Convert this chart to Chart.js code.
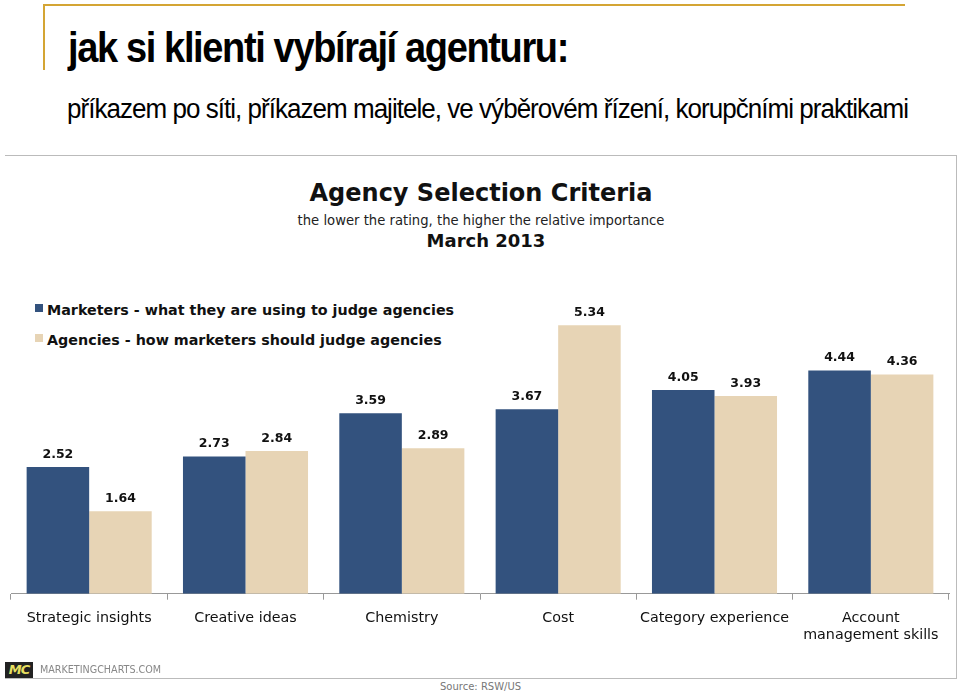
<!DOCTYPE html>
<html>
<head>
<meta charset="utf-8">
<script src="https://cdn.jsdelivr.net/npm/chart.js@4.4.1/dist/chart.umd.min.js"></script>
<style>
    body { margin: 0; width: 960px; height: 698px; background: #fff; position: relative; overflow: hidden; font-family: "Liberation Sans", Arial, sans-serif; }
    .gold-top { position: absolute; left: 43px; top: 4px; width: 862px; height: 2px; background: #d4a534; }
    .gold-left { position: absolute; left: 43px; top: 4px; width: 2px; height: 66px; background: #d4a534; }
    .slide-title { position: absolute; left: 68px; top: 24px; font-size: 42px; font-weight: bold; letter-spacing: -1.5px; color: #000; white-space: nowrap; transform-origin: 0 0; }
    .slide-sub { position: absolute; left: 67px; top: 94px; font-size: 27px; letter-spacing: -1px; color: #000; white-space: nowrap; transform-origin: 0 0; }
    .box { position: absolute; left: 5px; top: 155px; width: 951px; height: 522px; border: 1px solid #bbb; border-left: none; }
    .box::before { content: ""; position: absolute; left: 0; top: -1px; width: 951px; height: 1px; background: #bbb; }
    .chart-wrap { position: absolute; left: 5px; top: 155px; width: 952px; height: 523px; }
    .ct { position: absolute; left: 5px; width: 952px; text-align: center; font-family: "DejaVu Sans", Verdana, sans-serif; color: #111; }
    .ct1 { top: 179px; font-size: 24px; font-weight: bold; }
    .ct2 { top: 213px; font-size: 13.2px; color: #222; }
    .ct3 { top: 230px; left: 10px; font-size: 18px; font-weight: bold; }
    .legend { position: absolute; left: 35px; top: 301px; font-family: "DejaVu Sans", Verdana, sans-serif; font-size: 14.3px; font-weight: bold; color: #111; }
    .legend div { height: 30px; line-height: 18px; white-space: nowrap; }
    .legend span { display: inline-block; width: 8px; height: 8px; margin-right: 4px; vertical-align: 3px; }
    .mc { position: absolute; left: 5px; top: 662px; width: 28px; height: 16px; background: #222; color: #e8e060; font: italic bold 13px "DejaVu Sans", sans-serif; text-align: center; line-height: 16px; letter-spacing: -1px; }
    .mc-text { position: absolute; left: 40px; top: 664px; font: 9.6px "DejaVu Sans", Verdana, sans-serif; color: #888; }
    .source { position: absolute; left: 440px; top: 681px; font: 10px "DejaVu Sans", Verdana, sans-serif; color: #777; }
</style>
</head>
<body>
<div class="gold-top"></div>
<div class="gold-left"></div>
<div class="slide-title" id="slideTitle">jak si klienti vybírají agenturu:</div>
<div class="slide-sub" id="slideSub">příkazem po síti, příkazem majitele, ve výběrovém řízení, korupčními praktikami</div>
<div class="box"></div>
<div class="ct ct1">Agency Selection Criteria</div>
<div class="ct ct2">the lower the rating, the higher the relative importance</div>
<div class="ct ct3">March 2013</div>
<div class="legend" id="legend"></div>
<div class="chart-wrap"><canvas id="chart" width="952" height="523"></canvas></div>
<div class="mc">MC</div>
<div class="mc-text">MARKETINGCHARTS.COM</div>
<div class="source">Source: RSW/US</div>

<script>
const categories = [
    'Strategic insights',
    'Creative ideas',
    'Chemistry',
    'Cost',
    'Category experience',
    ['Account', 'management skills']
];
const seriesNames = [
    'Marketers - what they are using to judge agencies',
    'Agencies - how marketers should judge agencies'
];
const marketers = [2.52, 2.73, 3.59, 3.67, 4.05, 4.44];
const agencies = [1.64, 2.84, 2.89, 5.34, 3.93, 4.36];
const colors = ['#33527e', '#e7d4b5'];

// squeeze the slide headings to the condensed width of the original
function fitWidth(id, target) {
    const el = document.getElementById(id);
    const w = el.getBoundingClientRect().width;
    el.style.transform = `scaleX(${target / w})`;
}
fitWidth('slideTitle', 500);
fitWidth('slideSub', 841);

// value labels above each bar
const valueLabels = {
    id: 'valueLabels',
    afterDatasetsDraw(chart) {
        const ctx = chart.ctx;
        ctx.save();
        ctx.font = 'bold 12.5px "DejaVu Sans", Verdana, sans-serif';
        ctx.fillStyle = '#111';
        ctx.textAlign = 'center';
        ctx.textBaseline = 'bottom';
        chart.data.datasets.forEach((ds, i) => {
            chart.getDatasetMeta(i).data.forEach((bar, j) => {
                ctx.fillText(ds.data[j].toFixed(2), bar.x, bar.y - 6);
            });
        });
        ctx.restore();
    }
};

const legendEl = document.getElementById('legend');
seriesNames.forEach((name, i) => {
    const row = document.createElement('div');
    row.innerHTML = `<span style="background:${colors[i]}"></span>${name}`;
    legendEl.appendChild(row);
});

new Chart(document.getElementById('chart'), {
    type: 'bar',
    data: {
        labels: categories,
        datasets: [
            { label: seriesNames[0], data: marketers, backgroundColor: colors[0] },
            { label: seriesNames[1], data: agencies, backgroundColor: colors[1] }
        ]
    },
    options: {
        responsive: false,
        animation: false,
        layout: { padding: { top: 137, left: 6, right: 8, bottom: 24 } },
        datasets: { bar: { categoryPercentage: 0.8, barPercentage: 1.0 } },
        plugins: {
            legend: { display: false },
            tooltip: { enabled: false }
        },
        scales: {
            x: {
                grid: { drawOnChartArea: false, drawTicks: true, tickLength: 6, color: '#999' },
                border: { display: true, color: '#999' },
                ticks: {
                    padding: 10,
                    color: '#111',
                    font: { family: '"DejaVu Sans", Verdana, sans-serif', size: 14.3 },
                    maxRotation: 0,
                    autoSkip: false
                }
            },
            y: { display: false, min: 0, max: 6 }
        }
    },
    plugins: [valueLabels]
});
</script>
</body>
</html>
